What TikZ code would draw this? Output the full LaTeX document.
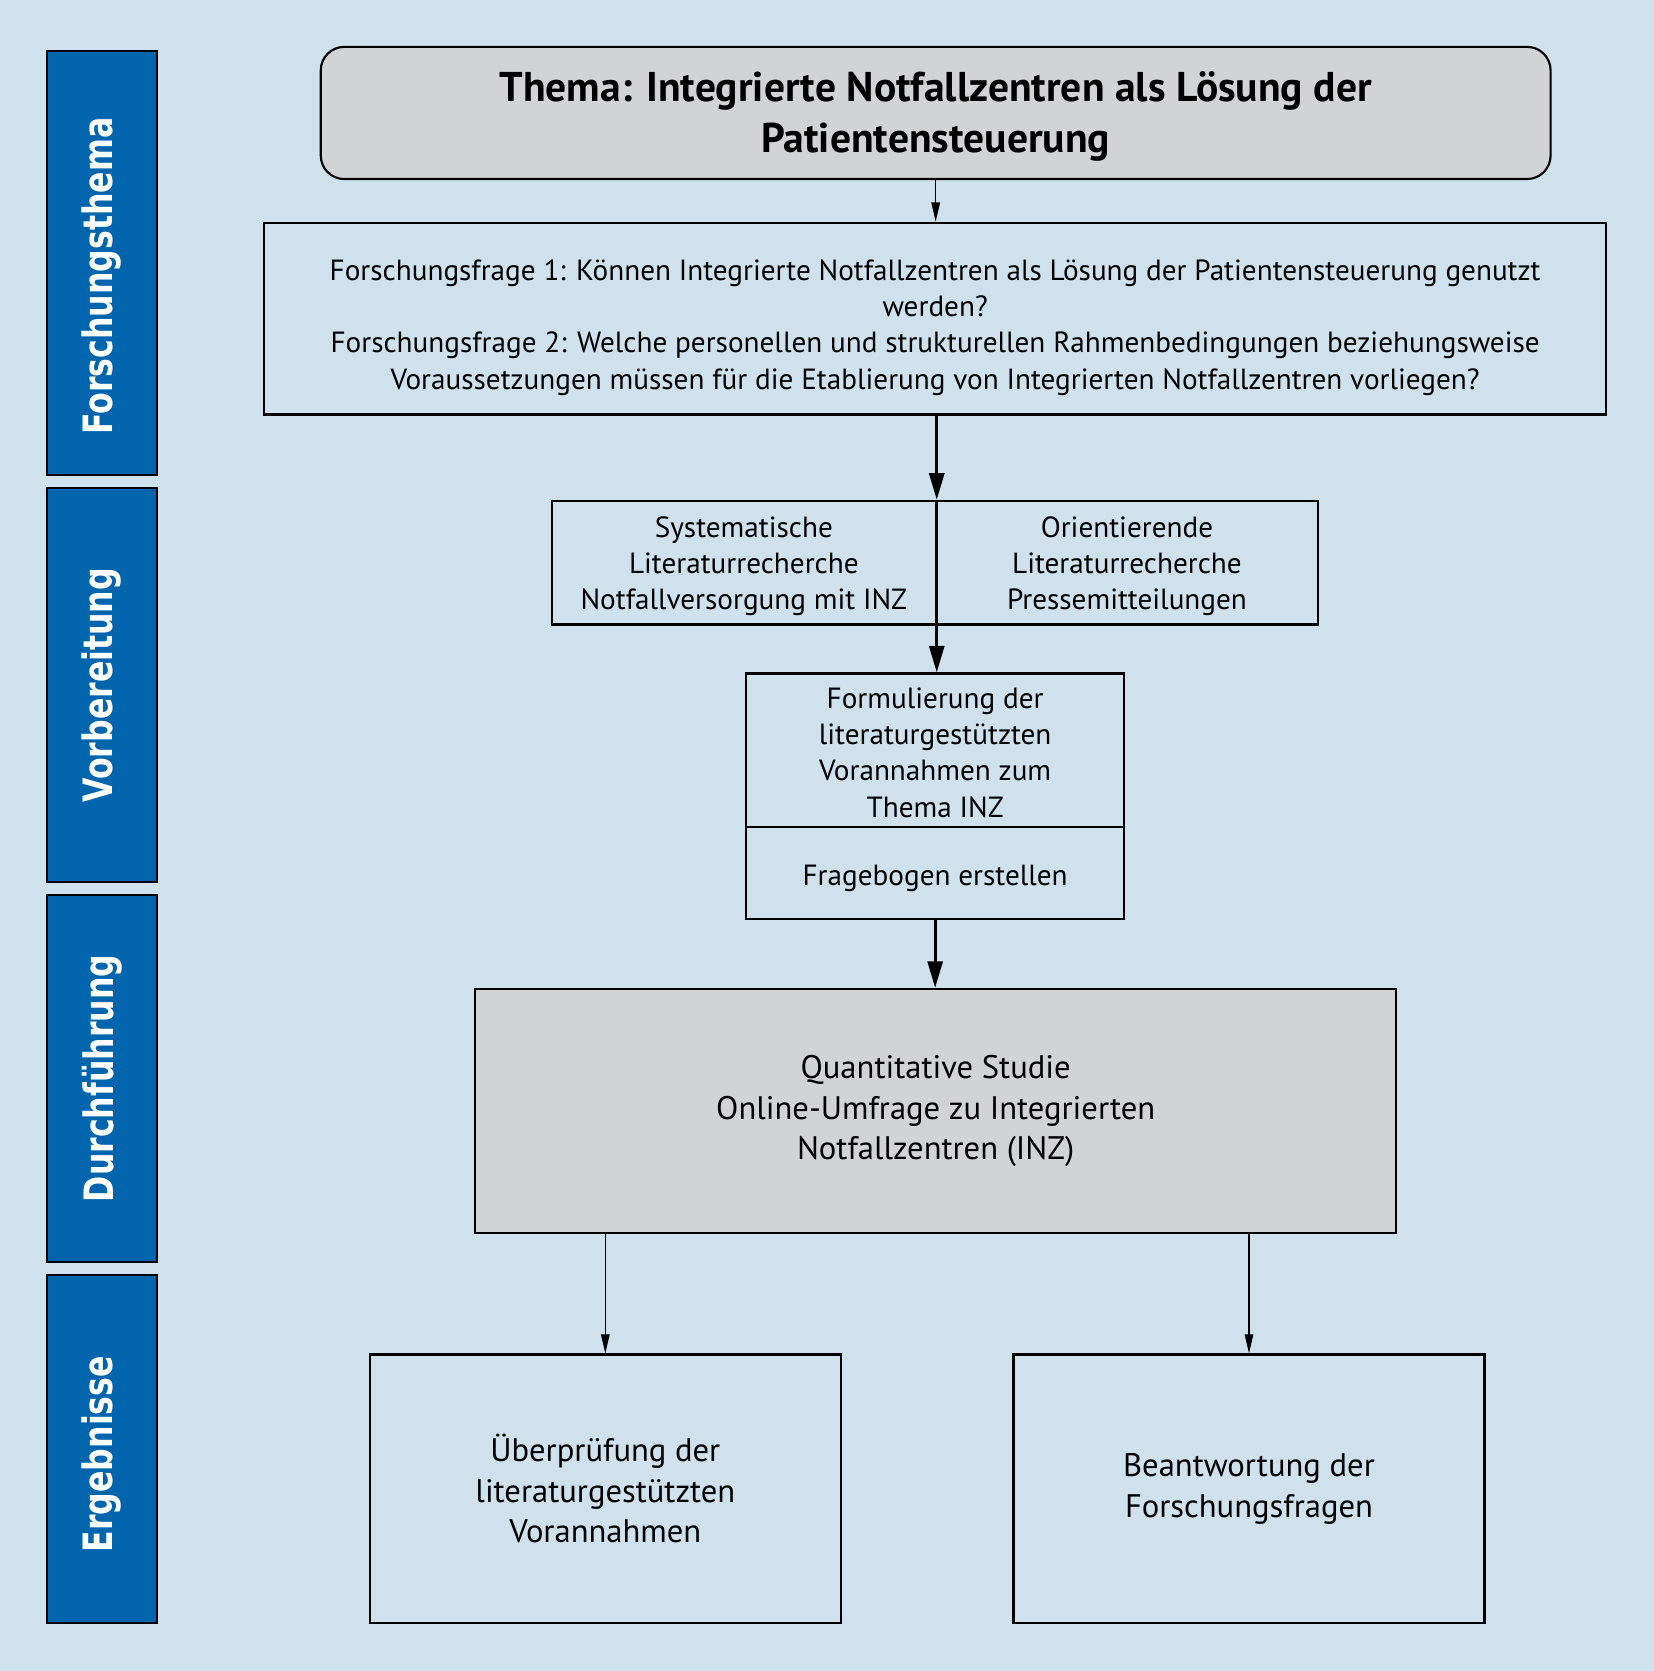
\documentclass[tikz,border=0pt]{standalone}
\usepackage{fontspec}
\setmainfont{PT Sans}
\newfontfamily\barfont{DejaVu Sans}
\usetikzlibrary{arrows.meta}

\definecolor{bgblue}{RGB}{207,225,236}
\definecolor{barblue}{RGB}{0,101,173}
\definecolor{boxgray}{RGB}{210,211,213}

\tikzset{
  box/.style={draw, line width=2pt, inner sep=0pt, align=center,
    font=\fontsize{27.4}{34}\selectfont},
  bigbox/.style={box, font=\fontsize{30.6}{38}\selectfont},
  bar/.style={draw, line width=2pt, fill=barblue, inner sep=0pt,
    minimum width=103pt},
  barlabel/.style={text=white, font=\barfont\bfseries\fontsize{38}{40}\selectfont,
    rotate=90, xscale=0.78, transform shape},
  thin arrow/.style={line width=1.3pt, -{Triangle[length=18pt,width=8pt]}},
  thick arrow/.style={line width=3pt, -{Triangle[length=25pt,width=14pt]}}
}

\begin{document}
\begin{tikzpicture}[x=1pt,y=-1pt]
\fill[bgblue] (0,0) rectangle (1552,1568);

% phases on the left
\node[bar, minimum height=398pt] (barthema) at (95.5,247) {};
\node[barlabel] at (95.5,259) {Forschungsthema};
\node[bar, minimum height=370pt] (barvor) at (95.5,643) {};
\node[barlabel] at (barvor) {Vorbereitung};
\node[bar, minimum height=344pt] (bardurch) at (95.5,1012) {};
\node[barlabel] at (bardurch) {Durchführung};
\node[bar, minimum height=327pt] (barerg) at (95.5,1359.5) {};
\node[barlabel] at (95.5,1364.5) {Ergebnisse};

% boxes
\node[box, fill=boxgray, rounded corners=22pt, minimum width=1154pt, minimum height=124pt,
  font=\bfseries\fontsize{39}{48}\selectfont] (thema) at (878,106)
  {\rule{0pt}{34pt}Thema: Integrierte Notfallzentren als Lösung der\\Patientensteuerung};
\node[box, minimum width=1259pt, minimum height=180pt] (frage) at (877.5,299)
  {\rule{0pt}{36pt}Forschungsfrage 1: Können Integrierte Notfallzentren als Lösung der Patientensteuerung genutzt\\
   werden?\\
   Forschungsfrage 2: Welche personellen und strukturellen Rahmenbedingungen beziehungsweise\\
   Voraussetzungen müssen für die Etablierung von Integrierten Notfallzentren vorliegen?};
\node[box, minimum width=360pt, minimum height=116pt] (litsys) at (698,528)
  {\rule{0pt}{26pt}Systematische\\Literaturrecherche\\Notfallversorgung mit INZ};
\node[box, minimum width=359pt, minimum height=116pt] (litori) at (1057.5,528)
  {\rule{0pt}{26pt}Orientierende\\Literaturrecherche\\Pressemitteilungen};
\node[box, minimum width=355pt, minimum height=144pt] (formul) at (877.5,704)
  {\rule{0pt}{24pt}Formulierung der\\literaturgestützten\\Vorannahmen zum\\Thema INZ};
\node[box, minimum width=355pt, minimum height=86pt] (frageb) at (877.5,819)
  {\rule{0pt}{30pt}Fragebogen erstellen};
\node[bigbox, fill=boxgray, minimum width=864pt, minimum height=229pt] (studie) at (878,1042.5)
  {Quantitative Studie\\Online-Umfrage zu Integrierten\\Notfallzentren (INZ)};
\node[bigbox, minimum width=442pt, minimum height=252pt] (pruef) at (568,1397)
  {Überprüfung der\\literaturgestützten\\Vorannahmen};
\node[bigbox, minimum width=442pt, minimum height=252pt] (antwort) at (1172,1397)
  {Beantwortung der\\Forschungsfragen};

% connectors
\draw[thin arrow] (thema.south) -- (thema.south |- frage.north);
\draw[thick arrow] (litsys.north east |- frage.south) -- (litsys.north east);
\draw[line width=3pt] (litsys.north east) -- (litsys.south east);
\draw[thick arrow] (litsys.south east) -- (litsys.south east |- formul.north);
\draw[thick arrow] (frageb.south) -- (frageb.south |- studie.north);
\draw[thin arrow] (studie.south -| pruef) -- (pruef.north);
\draw[thin arrow] (studie.south -| antwort) -- (antwort.north);
\end{tikzpicture}
\end{document}
